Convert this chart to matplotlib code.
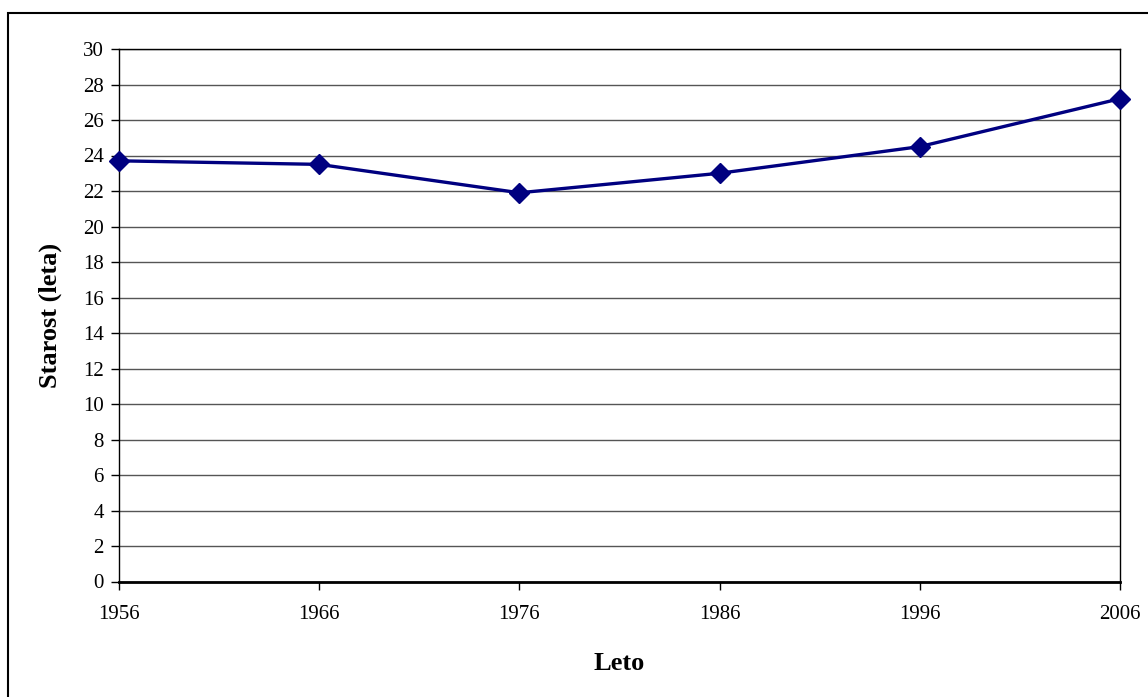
import matplotlib.pyplot as plt
from matplotlib.patches import Rectangle

years = [1956, 1966, 1976, 1986, 1996, 2006]
ages = [23.7, 23.5, 21.9, 23.0, 24.5, 27.2]
y_ticks = list(range(0, 31, 2))

plt.rcParams['font.family'] = ['Liberation Serif', 'DejaVu Serif']

fig = plt.figure(figsize=(11.48, 6.97), dpi=100)
W, H = 1148, 697
ax = fig.add_axes([119 / W, 1 - 581.5 / H, (1120 - 119) / W, (581.5 - 49) / H])

# chart frame, open at right and bottom edges of the canvas
fig.patches.append(Rectangle((8 / W, -0.1), 1.2, 1 - 13 / H + 0.1,
                             transform=fig.transFigure, fill=False,
                             edgecolor='black', linewidth=1.5))

ax.plot(years, ages, color='#000080', linewidth=2.4, marker='D',
        markersize=10, markerfacecolor='#000080', markeredgecolor='#000080',
        zorder=5, clip_on=False)

ax.set_xlim(1956, 2006)
ax.set_ylim(0, 30)
ax.set_xticks(years)
ax.set_yticks(y_ticks)
ax.tick_params(labelsize=15, direction='out', length=6, width=1, color='black')
ax.tick_params(axis='y', pad=5)
ax.tick_params(axis='x', pad=11)
ax.grid(axis='y', color='#555555', linewidth=1)
ax.set_axisbelow(True)
for side in ['left', 'right', 'top']:
    ax.spines[side].set_linewidth(1)
ax.spines['bottom'].set_linewidth(2)

ax.set_xlabel('Leto', fontsize=19, fontweight='bold', labelpad=20)
ax.set_ylabel('Starost (leta)', fontsize=19, fontweight='bold', labelpad=15)

fig.savefig('out.png', dpi=100)
